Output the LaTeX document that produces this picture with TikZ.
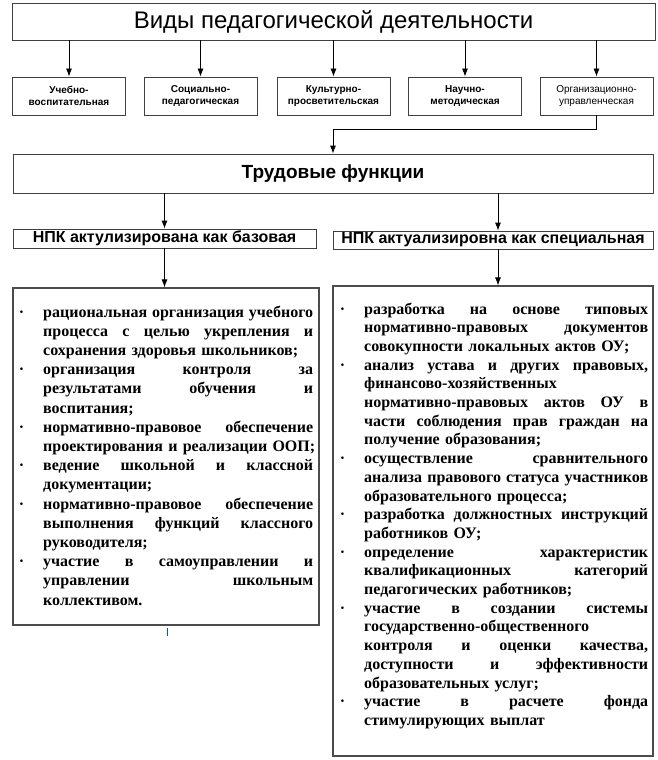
\documentclass[tikz,border=0pt]{standalone}
\usepackage{fontspec}
\setmainfont{Liberation Serif}
\setsansfont{Liberation Sans}
\usetikzlibrary{positioning}
\usetikzlibrary{arrows.meta}

\newcommand{\jline}[1]{\hbox to \linewidth{\spaceskip=0.25em plus 1fil\relax #1}}
\newcommand{\rline}[1]{\hbox{#1}}
\newcommand{\bul}{\llap{·\hspace{19pt}}}

\begin{document}
\begin{tikzpicture}[x=1pt, y=-1pt, >={Latex[length=8pt,width=6pt]},
	kind/.style={draw=black!75, line width=0.8pt, inner sep=0pt, align=center, minimum width=113pt, minimum height=38pt, font=\sffamily\bfseries\fontsize{10}{12}\selectfont},
	head/.style={draw=black!75, line width=0.8pt, inner sep=0pt, font=\sffamily\bfseries},
	frame/.style={draw=black!70, line width=1.2pt, inner sep=0pt, minimum width=#1},
	listtext/.style={inner sep=0pt, anchor=base west, font=\bfseries}]
					\useasboundingbox (0,0) rectangle (658,760);

					\node [head, font=\sffamily\fontsize{24}{28}\selectfont, minimum width=643pt, minimum height=37pt] (vidy) at (333.5,21.5) {Виды педагогической деятельности};

					\node [kind] (k1) at (69,96) {Учебно-\\воспитательная};
					\node [kind] (k2) at (200.5,96) {Социально-\\педагогическая};
					\node [kind] (k3) at (333.5,96) {Культурно-\\просветительская};
					\node [kind] (k4) at (465,96) {Научно-\\методическая};
					\node [kind, font=\sffamily\fontsize{10}{12}\selectfont] (k5) at (596.5,96) {Организационно-\\управленческая};

					\foreach \k in {k1,k2,k3,k4,k5}
						\draw [->, line width=0.8pt] (vidy.south -| \k) -- (\k);

					\node [head, font=\sffamily\bfseries\fontsize{19}{22}\selectfont, minimum width=640pt, minimum height=39pt] (trud) at (333,173.5) {Трудовые функции};
					\draw [->, line width=0.8pt] (k5.south) -- ++(0,14) -| (trud.north);

					\node [head, font=\sffamily\bfseries\fontsize{16}{18}\selectfont, minimum width=303pt, minimum height=19pt] (npkb) at (164.5,238.5) {НПК актулизирована как базовая};
					\node [head, font=\sffamily\bfseries\fontsize{16}{18}\selectfont, minimum width=320pt, minimum height=18pt] (npks) at (493,240) {НПК актуализировна как специальная};
					\draw [->, line width=0.8pt] (trud.south -| npkb) -- (npkb);
					\draw [->, line width=0.8pt] ([xshift=5pt]trud.south -| npks) -- ([xshift=5pt]npks.north);

					\node [frame=306pt, minimum height=337pt] (baz) at (166,456.5) {};
					\node [frame=320pt, minimum height=470pt] (spec) at (493,521) {};
					\draw [->, line width=0.8pt] (npkb) -- (npkb |- baz.north);
					\draw [->, line width=0.8pt] ([xshift=5pt]npks.south) -- ([xshift=5pt]npks.south |- spec.north);
					\draw [blue!70!cyan, line width=0.6pt] (167,628) -- (167,636);

					% basic functions
					\node [listtext, text width=270pt, font=\bfseries\fontsize{16}{19.2}\selectfont] (bazT) at (43,317) {%
						\jline{\bul рациональная организация учебного}
						\jline{процесса с целью укрепления и}
						\rline{сохранения здоровья школьников;}
						\jline{\bul организация контроля за}
						\jline{результатами обучения и}
						\rline{воспитания;}
						\jline{\bul нормативно-правовое обеспечение}
						\rline{проектирования и реализации ООП;}
						\jline{\bul ведение школьной и классной}
						\rline{документации;}
						\jline{\bul нормативно-правовое обеспечение}
						\jline{выполнения функций классного}
						\rline{руководителя;}
						\jline{\bul участие в самоуправлении и}
						\jline{управлении школьным}
						\rline{коллективом.}};

					% special functions
					\node [listtext, text width=284pt, font=\bfseries\fontsize{16}{18.7}\selectfont] (specT) at (364,314) {%
						\jline{\bul разработка на основе типовых}
						\jline{нормативно-правовых документов}
						\rline{совокупности локальных актов ОУ;}
						\jline{\bul анализ устава и других правовых,}
						\rline{финансово-хозяйственных}
						\jline{нормативно-правовых актов ОУ в}
						\jline{части соблюдения прав граждан на}
						\rline{получение образования;}
						\jline{\bul осуществление сравнительного}
						\jline{анализа правового статуса участников}
						\rline{образовательного процесса;}
						\jline{\bul разработка должностных инструкций}
						\rline{работников ОУ;}
						\jline{\bul определение характеристик}
						\jline{квалификационных категорий}
						\rline{педагогических работников;}
						\jline{\bul участие в создании системы}
						\rline{государственно-общественного}
						\jline{контроля и оценки качества,}
						\jline{доступности и эффективности}
						\rline{образовательных услуг;}
						\jline{\bul участие в расчете фонда}
						\rline{стимулирующих выплат}};
				\end{tikzpicture}
\end{document}
